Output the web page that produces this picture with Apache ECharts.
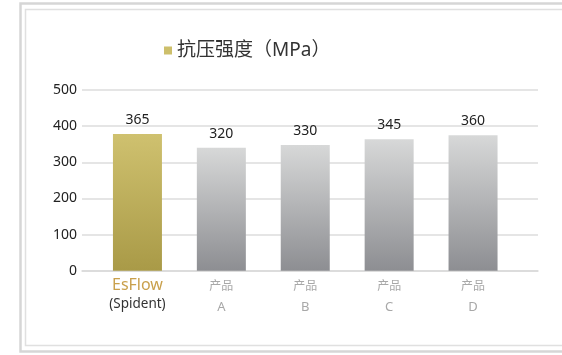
<!DOCTYPE html>
<html>
<head>
<meta charset="utf-8">
<script src="https://cdn.jsdelivr.net/npm/echarts@6/dist/echarts.min.js"></script>
<style>
html,body{margin:0;padding:0;background:#fff;}
#c{width:562px;height:355px;}
</style>
</head>
<body>
<div id="c"></div>
<script>
const categories = ['EsFlow', '产品A', '产品B', '产品C', '产品D'];
const barValues = [378, 340, 348, 364, 375];
const labelValues = ['365', '320', '330', '345', '360'];
const yTicks = [0, 100, 200, 300, 400, 500];
const seriesName = '抗压强度（MPa）';

const FONT = "'Noto Sans', 'Noto Sans CJK SC', sans-serif";
const gold = new echarts.graphic.LinearGradient(0, 0, 0, 1, [
  {offset: 0, color: '#cfc16f'}, {offset: 1, color: '#a99a47'}
]);
const grey = () => new echarts.graphic.LinearGradient(0, 0, 0, 1, [
  {offset: 0, color: '#d7d8d8'}, {offset: 1, color: '#8d8e92'}
]);

const chart = echarts.init(document.getElementById('c'), null, {renderer: 'canvas'});
chart.setOption({
  animation: false,
  textStyle: {fontFamily: FONT},
  graphic: [
    {type: 'rect', shape: {x: 20.5, y: 3.5, width: 600, height: 348}, style: {fill: 'none', stroke: '#d6d6d6', lineWidth: 2.5}},
    {type: 'rect', shape: {x: 25.5, y: 9.5, width: 600, height: 336}, style: {fill: 'none', stroke: '#e0e0e0', lineWidth: 1.5}}
  ],
  legend: {
    left: 159, top: 36,
    icon: 'rect', itemWidth: 8, itemHeight: 8, itemGap: 10,
    textStyle: {fontSize: 19, color: '#333', fontFamily: FONT, padding: [0, 0, 0, 0]},
    data: [{name: seriesName, itemStyle: {color: '#cdbf6b'}}]
  },
  grid: [
    {left: 82, right: 24, top: 90, bottom: 84.3},
    {left: 95.5, right: 47, top: 90, bottom: 84.3}
  ],
  xAxis: [
    {gridIndex: 0, type: 'category', data: categories, axisLine: {lineStyle: {color: '#d9d9d9', width: 1.5}},
     axisTick: {show: false}, axisLabel: {show: false}},
    {gridIndex: 1, type: 'category', data: categories, axisLine: {show: false}, axisTick: {show: false},
     axisLabel: {
       margin: 5, interval: 0,
       formatter: (v, i) => i === 0 ? '{a|EsFlow}\n{b|(Spident)}' : '{c|产品}\n{d|' + v.slice(2) + '}',
       rich: {
         a: {fontSize: 16, color: '#c9a04c', lineHeight: 19, fontFamily: FONT},
         b: {fontSize: 13.5, color: '#333', lineHeight: 19, fontFamily: FONT},
         c: {fontSize: 12, color: '#a8a8a8', lineHeight: 21, fontFamily: FONT},
         d: {fontSize: 13, color: '#a8a8a8', lineHeight: 21, fontFamily: FONT}
       }
     }}
  ],
  yAxis: [
    {gridIndex: 0, type: 'value', min: yTicks[0], max: yTicks[yTicks.length - 1], interval: 100,
     axisLine: {show: false}, axisTick: {show: false},
     axisLabel: {margin: 5, fontSize: 14, color: '#222', fontFamily: FONT},
     splitLine: {lineStyle: {color: '#dcdcdc', width: 1.5}}},
    {gridIndex: 1, type: 'value', min: yTicks[0], max: yTicks[yTicks.length - 1], interval: 100,
     show: false, splitLine: {show: false}}
  ],
  series: [{
    name: seriesName,
    type: 'bar',
    xAxisIndex: 1, yAxisIndex: 1,
    barWidth: 49,
    itemStyle: {color: gold},
    data: barValues.map((v, i) => i === 0 ? {value: v} : {value: v, itemStyle: {color: grey()}}),
    label: {
      show: true, position: 'top', distance: 7,
      fontSize: 14, color: '#222', fontFamily: FONT,
      formatter: p => labelValues[p.dataIndex]
    }
  }]
});
</script>
</body>
</html>
